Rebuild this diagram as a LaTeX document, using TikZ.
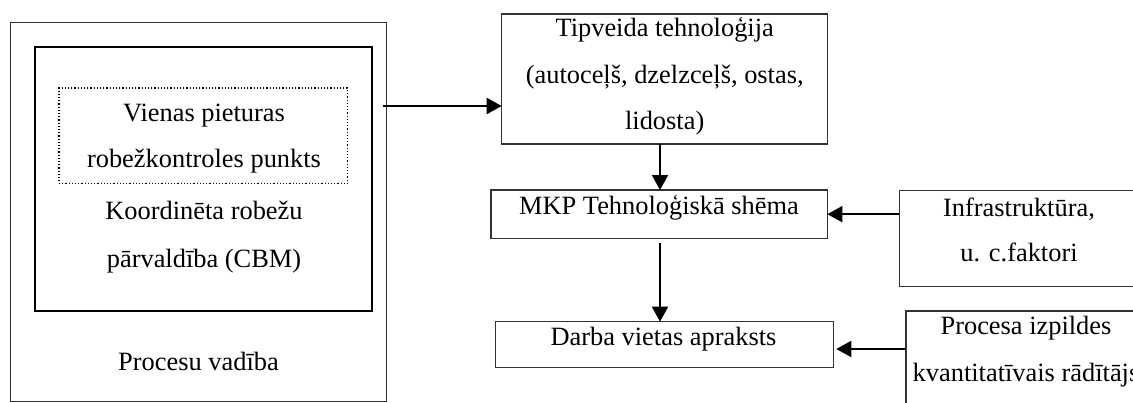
\documentclass[tikz,border=0pt]{standalone}
\usepackage{fontspec}
\setmainfont{Liberation Serif}
\usetikzlibrary{arrows.meta,calc}
\begin{document}
\begin{tikzpicture}[x=1pt,y=-1pt,
  box/.style={draw=black!80,line width=1.3pt,rectangle,inner sep=0pt,outer sep=0pt},
  thickbox/.style={draw=black,line width=2.2pt,rectangle,inner sep=0pt,outer sep=0pt},
  dotbox/.style={draw=black,line width=1.2pt,dotted,rectangle,inner sep=0pt,outer sep=0pt},
  txt/.style={anchor=base,inner sep=0pt,font=\fontsize{26.4}{30}\selectfont},
  arr/.style={line width=2pt,-{Triangle[length=15pt,width=16pt]}}]
\useasboundingbox (0,0) rectangle (1133,403);
\clip (0,0) rectangle (1133,403);
\fill[white] (0,0) rectangle (1133,403);
% boxes
\node[box,minimum width=376pt,minimum height=379pt] (outer) at (198.7,212.2) {};
\node[thickbox,minimum width=337pt,minimum height=264pt] (inner) at (203.5,179) {};
\node[dotbox,minimum width=288.7pt,minimum height=95.3pt] (dot) at (203.3,135.7) {};
\node[box,minimum width=326pt,minimum height=130pt] (tip) at (664.7,79) {};
\node[box,minimum width=336.3pt,minimum height=48.3pt] (mkp) at (659.2,214.2) {};
\node[box,minimum width=337.6pt,minimum height=45.6pt] (darba) at (664.5,344.5) {};
\node[box,minimum width=240.7pt,minimum height=96pt] (infra) at (1019.7,238.7) {};
\node[box,minimum width=234pt,minimum height=99pt] (proc) at (1023,360.5) {};
% texts
\node[txt] (t1) at (204,121.5) {Vienas pieturas};
\node[txt] (t2) at (204,167.5) {robežkontroles punkts};
\node[txt] (t3) at (204,220) {Koordinēta robežu};
\node[txt] (t4) at (204,268) {pārvaldība (CBM)};
\node[txt] (t5) at (198.5,370.5) {Procesu vadība};
\node[txt] (t6) at (664.7,36.5) {Tipveida tehnoloģija};
\node[txt] (t7) at (664.7,83.5) {(autoceļš, dzelzceļš, ostas,};
\node[txt] (t8) at (664.7,130) {lidosta)};
\node[txt] (t9) at (659,214.3) {MKP Tehnoloģiskā shēma};
\node[txt] (t10) at (663.5,346) {Darba vietas apraksts};
\node[txt] (t11) at (1019,216.7) {Infrastruktūra,};
\node[txt] (t12) at (1019,261.7) {u. c.faktori};
\node[txt] (t13) at (1026,335) {Procesa izpildes};
\node[txt] (t14) at (1026,381.7) {kvantitatīvais rādītājs};
% connectors
\coordinate (a1) at (383,106);
\coordinate (vx) at (660,0);
\coordinate (c2) at (0,349);
\draw[arr] (a1) -- (a1 -| tip.west);
\draw[arr] (vx |- tip.south) -- (vx |- mkp.north);
\draw[arr,shorten <=5pt] (vx |- mkp.south) -- (vx |- darba.north);
\draw[arr] (infra.west |- mkp.east) -- (mkp.east);
\draw[arr,shorten >=3pt] (proc.west |- c2) -- (darba.east |- c2);
\end{tikzpicture}
\end{document}
